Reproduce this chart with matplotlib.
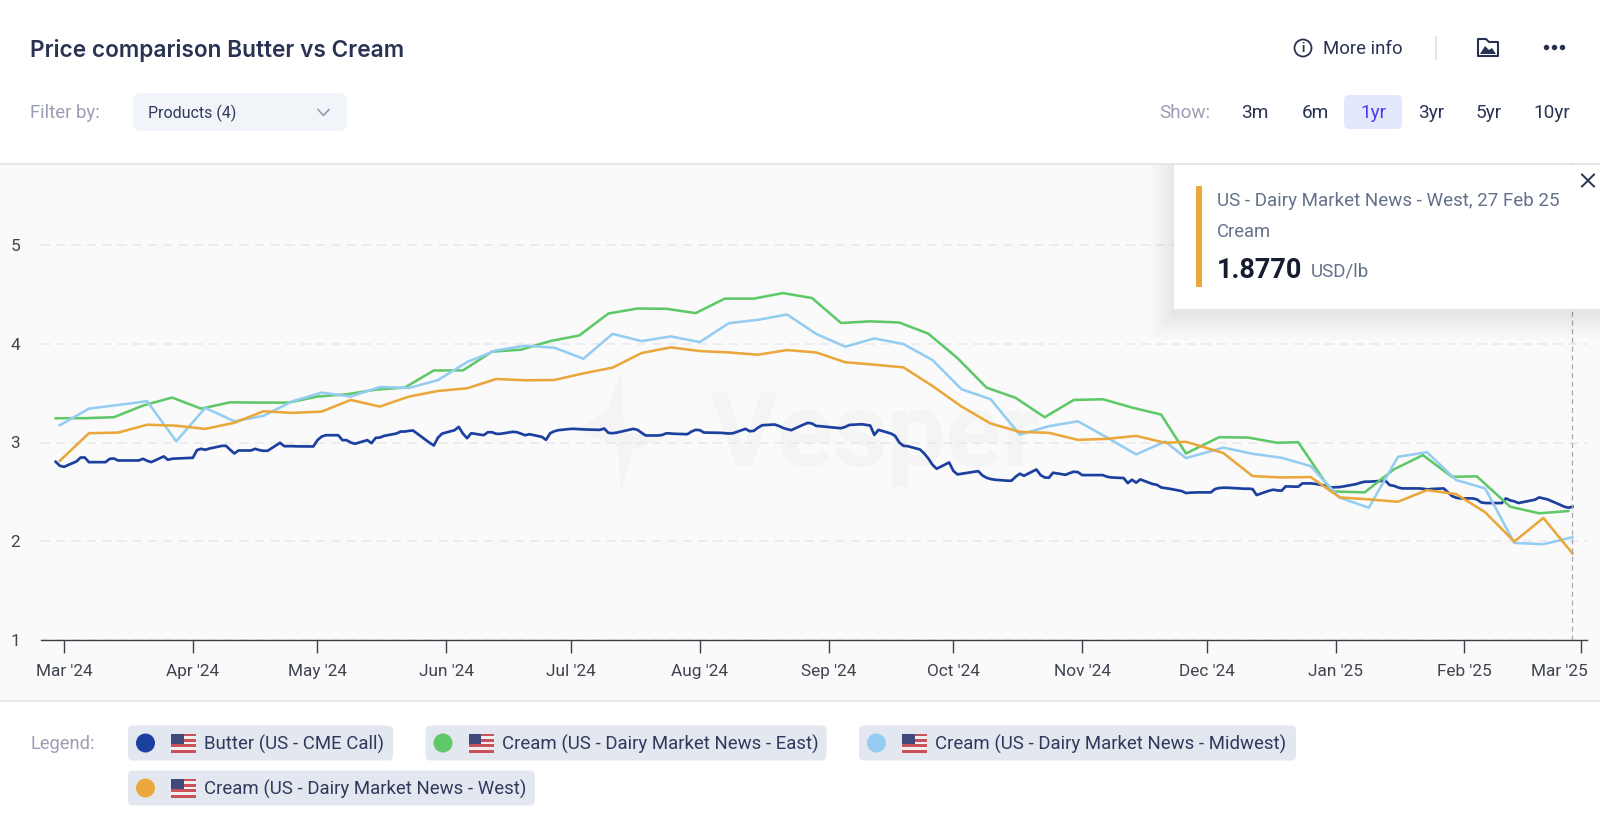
import numpy as np
import pandas as pd
import matplotlib
matplotlib.use("Agg")
import matplotlib.pyplot as plt
import matplotlib.dates as mdates
from matplotlib.patches import FancyBboxPatch, Rectangle, Circle, Polygon
from matplotlib.transforms import ScaledTranslation

plt.rcParams['font.family'] = ['Roboto', 'DejaVu Sans']

TITLE = "Price comparison Butter vs Cream"
RANGES = ["3m", "6m", "1yr", "3yr", "5yr", "10yr"]
LEGEND_LABELS = ["Butter (US - CME Call)", "Cream (US - Dairy Market News - East)",
                 "Cream (US - Dairy Market News - Midwest)", "Cream (US - Dairy Market News - West)"]

# Thursday report dates (West, Midwest)
thursday_dates = list(pd.date_range("2024-02-29", "2025-02-27", freq="7D"))
thursday_dates[39] = pd.Timestamp("2024-11-26")
# Wednesday report dates (East)
wednesday_dates = list(pd.date_range("2024-02-28", "2025-02-26", freq="7D"))
wednesday_dates[39] = pd.Timestamp("2024-11-26")
wednesday_dates[43] = pd.Timestamp("2024-12-23")
wednesday_dates[44] = pd.Timestamp("2024-12-31")
wednesday_dates[49] = pd.Timestamp("2025-02-04")

west = [2.815, 3.094, 3.10, 3.18, 3.17, 3.138, 3.20, 3.316, 3.30, 3.313, 3.431, 3.364, 3.465,
        3.522, 3.549, 3.643, 3.63, 3.633, 3.70, 3.758, 3.906, 3.963, 3.926, 3.912, 3.889, 3.936,
        3.912, 3.813, 3.788, 3.761, 3.572, 3.364, 3.192, 3.108, 3.098, 3.027, 3.037, 3.067, 2.997,
        3.007, 2.893, 2.66, 2.646, 2.65, 2.444, 2.424, 2.40, 2.518, 2.478, 2.293, 1.997, 2.236, 1.877]
midwest = [3.175, 3.343, 3.38, 3.418, 3.013, 3.35, 3.215, 3.27, 3.418, 3.505, 3.465, 3.562, 3.552,
           3.632, 3.815, 3.933, 3.98, 3.96, 3.848, 4.10, 4.027, 4.074, 4.017, 4.209, 4.242, 4.296,
           4.10, 3.97, 4.054, 3.997, 3.835, 3.539, 3.438, 3.08, 3.165, 3.215, 3.05, 2.879, 3.01,
           2.842, 2.948, 2.886, 2.845, 2.761, 2.441, 2.34, 2.855, 2.902, 2.62, 2.535, 1.983, 1.97, 2.04]
east = [3.246, 3.246, 3.256, 3.374, 3.455, 3.343, 3.407, 3.404, 3.404, 3.465, 3.488, 3.535, 3.556,
        3.73, 3.73, 3.92, 3.94, 4.027, 4.084, 4.306, 4.357, 4.354, 4.31, 4.457, 4.457, 4.513,
        4.463, 4.21, 4.227, 4.215, 4.102, 3.855, 3.556, 3.452, 3.256, 3.431, 3.438, 3.354, 3.283,
        2.889, 3.054, 3.05, 2.997, 3.003, 2.505, 2.495, 2.727, 2.872, 2.653, 2.657, 2.35, 2.283, 2.306]

butter_holidays = ["2024-03-29", "2024-05-27", "2024-06-19", "2024-07-04", "2024-09-02", "2024-11-28",
                   "2024-12-25", "2025-01-01", "2025-01-20", "2025-02-17"]
butter_dates = pd.bdate_range("2024-02-28", "2025-02-27").difference(pd.to_datetime(butter_holidays))
butter = [
    2.805, 2.764, 2.754,
    2.808, 2.848, 2.848, 2.801, 2.801,
    2.801, 2.835, 2.838, 2.818, 2.818,
    2.818, 2.818, 2.835, 2.815, 2.801,
    2.859, 2.825, 2.835, 2.838,
    2.845, 2.923, 2.936, 2.926, 2.939,
    2.966, 2.966, 2.926, 2.889, 2.919,
    2.919, 2.936, 2.923, 2.916, 2.916,
    2.997, 2.963, 2.963, 2.963, 2.961,
    2.96, 2.96, 3.024, 3.06, 3.074,
    3.074, 3.024, 3.024, 3.0, 2.987,
    3.024, 2.993, 3.047, 3.05, 3.067,
    3.091, 3.111, 3.111, 3.118, 3.121,
    2.997, 2.97, 3.05, 3.09,
    3.125, 3.158, 3.09, 3.044, 3.094,
    3.074, 3.104, 3.104, 3.088, 3.088,
    3.108, 3.104, 3.074, 3.084,
    3.057, 3.027, 3.094, 3.114, 3.125,
    3.138, 3.138, 3.135, 3.131,
    3.128, 3.141, 3.098, 3.094, 3.10,
    3.128, 3.138, 3.128, 3.098, 3.071,
    3.071, 3.077, 3.094, 3.091, 3.088,
    3.084, 3.111, 3.128, 3.125, 3.101,
    3.098, 3.098, 3.094, 3.091, 3.094,
    3.138, 3.114, 3.118, 3.15, 3.175,
    3.182, 3.168, 3.148, 3.135, 3.125,
    3.182, 3.199, 3.192, 3.168, 3.165,
    3.148, 3.145, 3.158, 3.178,
    3.185, 3.178, 3.172, 3.077, 3.128,
    3.091, 3.067, 3.0, 2.966, 2.963,
    2.929, 2.889, 2.838, 2.774, 2.734,
    2.798, 2.714, 2.677, 2.684, 2.69,
    2.71, 2.667, 2.643, 2.63, 2.623,
    2.613, 2.613, 2.653, 2.684, 2.663,
    2.727, 2.67, 2.646, 2.643, 2.694,
    2.673, 2.69, 2.704, 2.70, 2.67,
    2.67, 2.67, 2.67, 2.653, 2.646,
    2.64, 2.589, 2.623, 2.593, 2.626,
    2.579, 2.572, 2.545, 2.539, 2.532,
    2.508, 2.488, 2.492, 2.495,
    2.495, 2.529, 2.539, 2.542, 2.542,
    2.535, 2.532, 2.532, 2.529, 2.468,
    2.512, 2.522, 2.515, 2.512, 2.556,
    2.552, 2.586, 2.586, 2.582,
    2.559, 2.545, 2.549, 2.556,
    2.579, 2.593, 2.603, 2.603, 2.606,
    2.613, 2.569, 2.562, 2.545, 2.535,
    2.535, 2.532, 2.525, 2.529,
    2.535, 2.498, 2.458, 2.441, 2.434,
    2.434, 2.424, 2.394, 2.387, 2.387,
    2.387, 2.434, 2.414, 2.404, 2.387,
    2.421, 2.444, 2.434, 2.424,
    2.37, 2.35, 2.34, 2.35,
]

C_BUTTER, C_EAST, C_MIDWEST, C_WEST = "#1c409f", "#5fc869", "#95cdf2", "#eaa73b"
NAVY = "#2a3254"
SLATE = "#64708a"
MUTED = "#9a9db4"

W, H = 1600, 826
fig = plt.figure(figsize=(W / 100, H / 100), dpi=100, facecolor="white")


def overlay(z):
    a = fig.add_axes([0, 0, 1, 1], zorder=z)
    a.set_xlim(0, W)
    a.set_ylim(H, 0)
    a.axis("off")
    a.patch.set_alpha(0)
    return a


back = overlay(0)
front = overlay(3)

# plot band
back.add_patch(Rectangle((0, 164), W, 536, fc="#fafafa", ec="none"))
back.plot([0, W], [163.5, 163.5], color="#e4e4e6", lw=1.3)
back.plot([0, W], [700.5, 700.5], color="#e6e6e8", lw=1.3)

# watermark
WM = "#f4f4f5"
back.add_patch(Polygon([(621, 372), (624, 432), (668, 437), (632, 450), (621, 493), (618, 447),
                        (575, 430), (606, 412)], closed=True, fc=WM, ec="none"))
back.text(710, 466, "Vesper", fontsize=75, fontweight="bold", color=WM, ha="left", va="baseline")

# chart
L, R, T, B = 41, 1587, 164, 640
ax = fig.add_axes([L / W, (H - B) / H, (R - L) / W, (B - T) / H], zorder=1)
ax.patch.set_alpha(0)
ax.plot(butter_dates, butter, color=C_BUTTER, lw=1.95, solid_joinstyle="round", zorder=3)
ax.plot(wednesday_dates, east, color=C_EAST, lw=1.85, zorder=4)
ax.plot(thursday_dates, midwest, color=C_MIDWEST, lw=1.85, zorder=5)
ax.plot(thursday_dates, west, color=C_WEST, lw=1.85, zorder=6)
ax.axvline(pd.Timestamp("2025-02-27"), color="#a4a8b4", lw=0.9, ls=(0, (4, 3)), zorder=7)

ax.set_xlim(pd.Timestamp("2024-03-01") - pd.Timedelta(days=5.535),
            pd.Timestamp("2024-03-01") + pd.Timedelta(days=366.5))
ax.set_ylim(1, 1 + (B - T) / 98.75)
ax.set_yticks([1, 2, 3, 4, 5])
ax.yaxis.set_major_formatter(lambda v, p: f"{v:.0f}")
ax.xaxis.set_major_locator(mdates.MonthLocator())
ax.xaxis.set_major_formatter(mdates.DateFormatter("%b '%y"))
ax.grid(axis="y", color="#e8e8ea", lw=1.1, ls=(0, (6, 4)))
ax.set_axisbelow(True)
for s in ["top", "left", "right"]:
    ax.spines[s].set_visible(False)
ax.spines["bottom"].set_color("#3c3f47")
ax.spines["bottom"].set_linewidth(1.0)
ax.tick_params(axis="x", length=9, width=1.0, color="#3c3f47", labelsize=12.4, labelcolor="#3f4450", pad=8)
ax.tick_params(axis="y", length=0, labelsize=12.4, labelcolor="#3f4450", pad=15)
fig.canvas.draw()
last = ax.get_xticklabels()[-1]
last.set_ha("right")
last.set_transform(last.get_transform() + ScaledTranslation(7 / 100, 0, fig.dpi_scale_trans))

# header
back.text(30, 50, TITLE, fontsize=16.3, fontweight="semibold", color=NAVY, family=["Inter", "DejaVu Sans"],
          va="center", ha="left")
back.text(30, 113, "Filter by:", fontsize=13.4, color=MUTED, va="center", ha="left")
back.add_patch(FancyBboxPatch((133 + 8, 93 + 8), 214 - 16, 38 - 16, boxstyle="round,pad=8,rounding_size=8",
                              fc="#f1f4f9", ec="none", mutation_aspect=1))
back.text(148, 113, "Products (4)", fontsize=11.5, color="#2f3a5c", va="center", ha="left")
back.plot([318, 323.5, 329], [109.5, 115.5, 109.5], color="#8d93a8", lw=1.1)

# top right controls
front.add_patch(Circle((1303, 48), 8.5, fc="none", ec=NAVY, lw=1.3))
front.text(1303, 48, "i", fontsize=9, fontweight="bold", color=NAVY, ha="center", va="center")
front.text(1323, 49, "More info", fontsize=13.4, color=NAVY, va="center", ha="left")
front.plot([1435.5, 1435.5], [37, 59], color="#dcdfe6", lw=1.2)
# folder-with-picture icon
front.add_patch(Polygon([(1478, 39), (1486, 39), (1489, 42), (1498, 42), (1498, 56), (1478, 56)], closed=True,
                        fc="none", ec=NAVY, lw=1.5, joinstyle="round"))
front.add_patch(Polygon([(1480, 54), (1485, 46), (1489, 50), (1492, 48), (1496, 54)], closed=True, fc=NAVY, ec="none"))
front.plot([1546, 1554, 1562], [47, 47, 47], ls="none", marker="o", ms=2.9, color=NAVY)

front.text(1159, 113, "Show:", fontsize=13.6, color=MUTED, va="center", ha="left")
front.add_patch(FancyBboxPatch((1344 + 5, 95 + 5), 58 - 10, 34 - 10, boxstyle="round,pad=5,rounding_size=5",
                               fc="#e3e8fd", ec="none"))
for lab, cx in zip(RANGES, [1255, 1315, 1373, 1431, 1489, 1552]):
    front.text(cx, 113, lab, fontsize=13.7, color="#4a3df0" if lab == "1yr" else NAVY, ha="center", va="center")

# tooltip with soft shadow
for g in np.arange(1, 30, 1.5):
    front.add_patch(Rectangle((1174 - g * 0.8, 165), 426 + g, 144 + g * 0.9 + 4, fc="#30364a", ec="none", alpha=0.0045))
front.add_patch(Rectangle((1174, 165), 426, 144, fc="white", ec="none"))
front.add_patch(Rectangle((1196, 186), 5.5, 101, fc=C_WEST, ec="none"))
front.text(1217, 200.5, "US - Dairy Market News - West, 27 Feb 25", fontsize=13.5, color=SLATE, va="center", ha="left")
front.text(1217, 232, "Cream", fontsize=13.2, color=SLATE, va="center", ha="left")
front.text(1217, 270, f"{west[-1]:.4f}", fontsize=19.5, fontweight="bold", color="#161d30", va="center", ha="left")
front.text(1311, 271.5, "USD/lb", fontsize=13.5, color=SLATE, va="center", ha="left")
front.plot([1582, 1594], [174.5, 186.5], color=NAVY, lw=1.4)
front.plot([1582, 1594], [186.5, 174.5], color=NAVY, lw=1.4)


# legend
def flag(a, x, y, w=25, h=19):
    stripes = 7
    for i in range(stripes):
        a.add_patch(Rectangle((x, y + i * h / stripes), w, h / stripes + 0.2,
                              fc="#c8515a" if i % 2 == 0 else "#f4eeee", ec="none"))
    a.add_patch(Rectangle((x, y), w * 0.5, h * 4 / 7, fc="#3f4a7a", ec="none"))


back.text(30, 744, "Legend:", fontsize=13.2, color=MUTED, va="center", ha="left")
chips = [(128, 393, 743, C_BUTTER), (425.5, 826.5, 743, C_EAST), (859, 1296, 743, C_MIDWEST), (128, 535, 788, C_WEST)]
for (x0, x1, cy, col), lab in zip(chips, LEGEND_LABELS):
    back.add_patch(FancyBboxPatch((x0 + 5, cy - 17.5 + 5), x1 - x0 - 10, 35 - 10, boxstyle="round,pad=5,rounding_size=5",
                                  fc="#e3e7ef", ec="none"))
    back.add_patch(Circle((x0 + 17.5, cy), 9.5, fc=col, ec="none"))
    flag(back, x0 + 43, cy - 9.5)
    back.text(x0 + 76, cy + 1, lab, fontsize=13.45, color="#2f3a5c", va="center", ha="left")

fig.savefig("out.png", dpi=100)
